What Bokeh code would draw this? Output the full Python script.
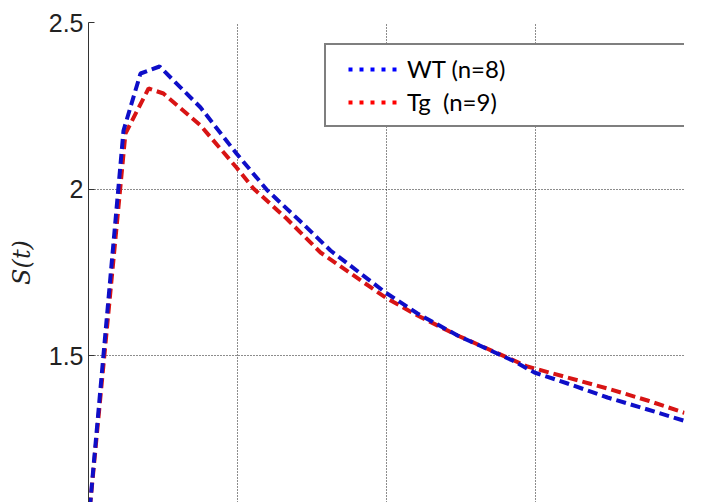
from bokeh.plotting import figure
from bokeh.models import (Range1d, FixedTicker, CustomJSTickFormatter, Legend, LegendItem)
from bokeh.embed import file_html
from bokeh.resources import INLINE

# ---- data ----
t_wt = [0.000, 0.235, 0.349, 0.477, 0.752, 0.993, 1.201, 1.423, 1.624, 1.993,
        2.208, 2.477, 2.846, 2.993, 3.215, 3.483, 3.752, 4.000]
s_wt = [1.000, 2.176, 2.347, 2.368, 2.245, 2.107, 1.996, 1.903, 1.816, 1.690,
        1.627, 1.561, 1.486, 1.450, 1.417, 1.375, 1.339, 1.305]

t_tg = [0.000, 0.248, 0.403, 0.503, 0.752, 0.993, 1.107, 1.329, 1.557, 1.993,
        2.208, 2.477, 2.946, 3.215, 3.483, 3.752, 4.000]
s_tg = [1.000, 2.167, 2.302, 2.287, 2.191, 2.065, 2.002, 1.912, 1.810, 1.675,
        1.621, 1.561, 1.468, 1.435, 1.402, 1.366, 1.329]

labels = ["WT (n=8)", "Tg  (n=9)"]
y_ticks = [1.0, 1.5, 2.0, 2.5]
x_grid_ticks = [1, 2, 3, 4]

p = figure(width=725, height=502, x_range=Range1d(0, 4), y_range=Range1d(1.06, 2.5),
           x_axis_location=None, y_axis_location="left",
           output_backend="svg", toolbar_location=None,
           min_border_left=88, min_border_right=41, min_border_top=22, min_border_bottom=0)
p.outline_line_color = None
p.background_fill_color = "white"
p.border_fill_color = "white"

# grids
p.xgrid.ticker = FixedTicker(ticks=x_grid_ticks)
p.ygrid.ticker = FixedTicker(ticks=y_ticks)
for g in (p.xgrid, p.ygrid):
    g.grid_line_color = "#1a1a1a"
    g.grid_line_dash = "1 2"
    g.grid_line_width = 1
    g.grid_line_alpha = 1.0

# y axis
ax = p.yaxis[0]
ax.ticker = FixedTicker(ticks=y_ticks)
ax.formatter = CustomJSTickFormatter(code="return tick.toString()")
ax.major_label_text_font = "Liberation Sans"
ax.major_label_text_font_size = "25px"
ax.major_label_text_color = "#222222"
ax.major_label_standoff = 5
ax.major_tick_in = 6
ax.major_tick_out = 0
ax.minor_tick_in = 0
ax.minor_tick_out = 0
ax.axis_line_color = "#333333"
ax.major_tick_line_color = "#333333"
ax.axis_label = "S(t)"
ax.axis_label_text_font = "DejaVu Serif"
ax.axis_label_text_font_style = "italic"
ax.axis_label_text_font_size = "24px"
ax.axis_label_text_color = "#222222"
ax.axis_label_standoff = 10

# curves
p.line(t_tg, s_tg, line_color="#d81414", line_width=4, line_dash="10 5")
p.line(t_wt, s_wt, line_color="#0e0ec8", line_width=4, line_dash="10 5")

# legend-only renderers (dotted samples); a single NaN point draws nothing on the plot
nan = float("nan")
rb = p.line(x=[nan], y=[nan], line_color="#0000ff", line_width=4,
            line_dash="4 7 4 7 4 7 4 7 4 20", line_dash_offset=55)
rr = p.line(x=[nan], y=[nan], line_color="#ff0000", line_width=4,
            line_dash="4 7 4 7 4 7 4 7 4 20", line_dash_offset=55)

legend = Legend(items=[LegendItem(label=labels[0], renderers=[rb]),
                       LegendItem(label=labels[1], renderers=[rr])],
                location=(236, 375), padding=9, spacing=4,
                glyph_width=62, glyph_height=28, label_height=28, label_width=268,
                label_standoff=10, label_text_font="Lato", label_text_font_size="24px",
                label_text_color="#000000",
                border_line_color="black", border_line_width=2,
                background_fill_color="white", background_fill_alpha=1.0, margin=0)
p.add_layout(legend)

open("out.html", "w").write(file_html(p, INLINE))
